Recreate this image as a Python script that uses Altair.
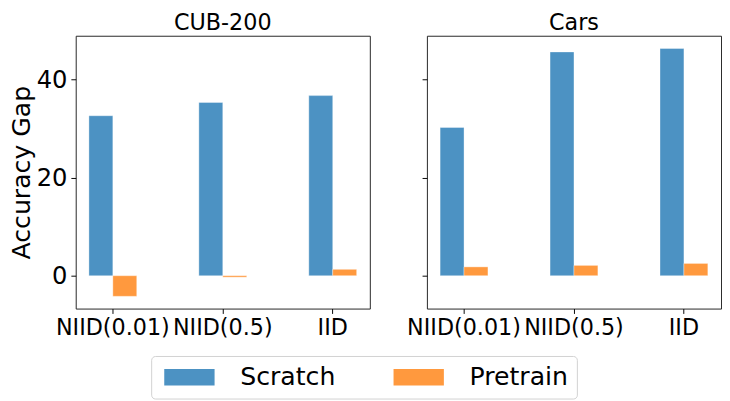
import altair as alt
import pandas as pd

conditions = ["NIID(0.01)", "NIID(0.5)", "IID"]
series = ["Scratch", "Pretrain"]
datasets = ["CUB-200", "Cars"]
cub_scratch = [32.6, 35.3, 36.7]
cub_pretrain = [-4.2, -0.3, 1.3]
cars_scratch = [30.2, 45.6, 46.3]
cars_pretrain = [1.8, 2.1, 2.5]
colors = ["#4c92c3", "#ff993e"]

rows = []
for ds, sc, pt in [("CUB-200", cub_scratch, cub_pretrain), ("Cars", cars_scratch, cars_pretrain)]:
    for c, a, b in zip(conditions, sc, pt):
        rows.append({"dataset": ds, "cond": c, "series": "Scratch", "value": a})
        rows.append({"dataset": ds, "cond": c, "series": "Pretrain", "value": b})
df = pd.DataFrame(rows)

FONT = "DejaVu Sans"
ydomain = [-6.7, 48.9]


def panel(ds, show_labels):
    yaxis = alt.Axis(
        values=[0, 20, 40], grid=False, domain=False, tickSize=5, tickColor="#000",
        labels=show_labels, labelFontSize=25, labelFont=FONT, labelColor="#000",
        labelPadding=4, title="Accuracy Gap" if show_labels else None,
        titleFontSize=26, titleFont=FONT, titleFontWeight="normal", titleColor="#000",
        titlePadding=2,
    )
    return alt.Chart(df[df.dataset == ds]).mark_bar(stroke="#ffffff", strokeWidth=0.6, strokeOpacity=0.6).encode(
        x=alt.X("cond:N", sort=conditions, title=None,
                scale=alt.Scale(paddingInner=0.565, paddingOuter=0.12),
                axis=alt.Axis(labelAngle=0, labelFontSize=23, labelFont=FONT, labelColor="#000",
                              tickSize=5, tickColor="#000", domain=False, labelPadding=4)),
        xOffset=alt.XOffset("series:N", sort=series),
        y=alt.Y("value:Q", scale=alt.Scale(domain=ydomain, nice=False, zero=False), axis=yaxis),
        color=alt.Color("series:N", sort=series,
                        scale=alt.Scale(domain=series, range=colors),
                        legend=alt.Legend(title=None, orient="none", legendX=78, legendY=331,
                                          direction="horizontal",
                                          symbolType="M-1,-1H5.12V1H-1Z", symbolSize=289,
                                          symbolStrokeWidth=0, labelFontSize=26, labelFont=FONT,
                                          labelColor="#000", labelOffset=57, columnPadding=55,
                                          padding=9, strokeColor="#d0d0d0", cornerRadius=4,
                                          fillColor="white")),
    ).properties(
        width=304, height=282,
        title=alt.TitleParams(ds, fontSize=23, font=FONT, fontWeight="normal", color="#000",
                              offset=1),
    )


chart = alt.hconcat(panel("CUB-200", True), panel("Cars", False), spacing=36).configure_view(
    stroke="#222", strokeWidth=1
).properties(padding={"left": 0, "top": -3, "right": 0, "bottom": 0})

chart.save("out.html", embed_options={"renderer": "svg", "actions": False})
